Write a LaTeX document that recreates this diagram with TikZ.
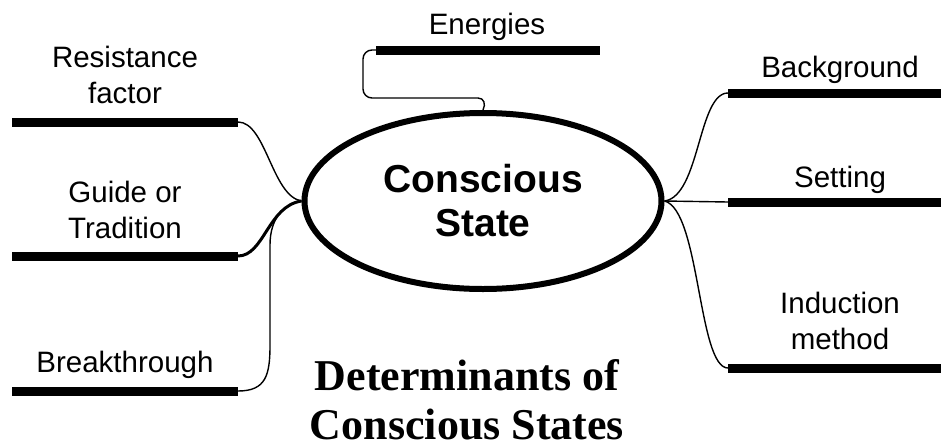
\documentclass[tikz,border=0pt]{standalone}
\usepackage{fontspec}
\setmainfont{Liberation Sans}
\newfontfamily\titlefont{Liberation Serif}
\usetikzlibrary{shapes.geometric}
\begin{document}
\begin{tikzpicture}[x=1pt,y=-1pt,
  bar/.style={fill=black,draw=none,inner sep=0pt,outer sep=0pt,minimum width=226pt,minimum height=9pt,rectangle},
  lbl/.style={align=center,font=\fontsize{29.5}{36}\selectfont,inner sep=0pt},
  conn/.style={line width=1.4pt},
  thickconn/.style={line width=3pt}]
\useasboundingbox (0,0) rectangle (941,447);
% centre ellipse
\node[ellipse,draw,line width=6pt,minimum width=357pt,minimum height=176pt,
  align=center,font=\fontsize{39}{44}\selectfont\bfseries] (cs) at (483,201) {Conscious\\State};
% bars
\node[bar] (rbar) at (125,122) {};
\node[bar] (gbar) at (125,256) {};
\node[bar] (bbar) at (125,391) {};
\node[bar,minimum width=224pt] (ebar) at (488,50) {};
\node[bar,minimum width=213pt] (bgbar) at (834.5,93) {};
\node[bar,minimum width=213pt] (sbar) at (834.5,202) {};
\node[bar,minimum width=213pt] (ibar) at (834.5,368) {};
% labels
\node[lbl] (rl) at (125,75) {Resistance\\factor};
\node[lbl] (gl) at (125,210) {Guide or\\Tradition};
\node[lbl] (bl) at (125,365) {Breakthrough};
\node[lbl] (el) at (487,27) {Energies};
\node[lbl] (bgl) at (840,70) {Background};
\node[lbl] (sl) at (840,180) {Setting};
\node[lbl] (il) at (840,321) {Induction\\method};
% title
\node[align=center,inner sep=0pt,font=\titlefont\fontsize{44}{49}\selectfont\bfseries] (title) at (467,400) {Determinants of\\Conscious States};
% connectors
\coordinate (cw) at (cs.west);
\coordinate (ce) at (cs.east);
\draw[conn] (rbar.east) .. controls (266,122) and (272,196) .. (cw);
\draw[thickconn] (gbar.east) .. controls (264,256) and (268,206) .. (cw);
\draw[conn] (bbar.east) .. controls (266,391) and (270,375) .. (270,345) -- (270,245) .. controls (270,218) and (284,204) .. (cw);
\draw[conn] (ce) .. controls (700,196) and (698,93) .. (bgbar.west);
\draw[conn] (ce) -- (sbar.west);
\draw[conn] (ce) .. controls (700,210) and (698,368) .. (ibar.west);
\draw[conn,rounded corners=9pt] (ebar.west) -- (363,50) -- (363,98) -- (478,98);
\draw[conn] (478,98) .. controls (484,98) and (486,104) .. (cs.north);
\end{tikzpicture}
\end{document}
